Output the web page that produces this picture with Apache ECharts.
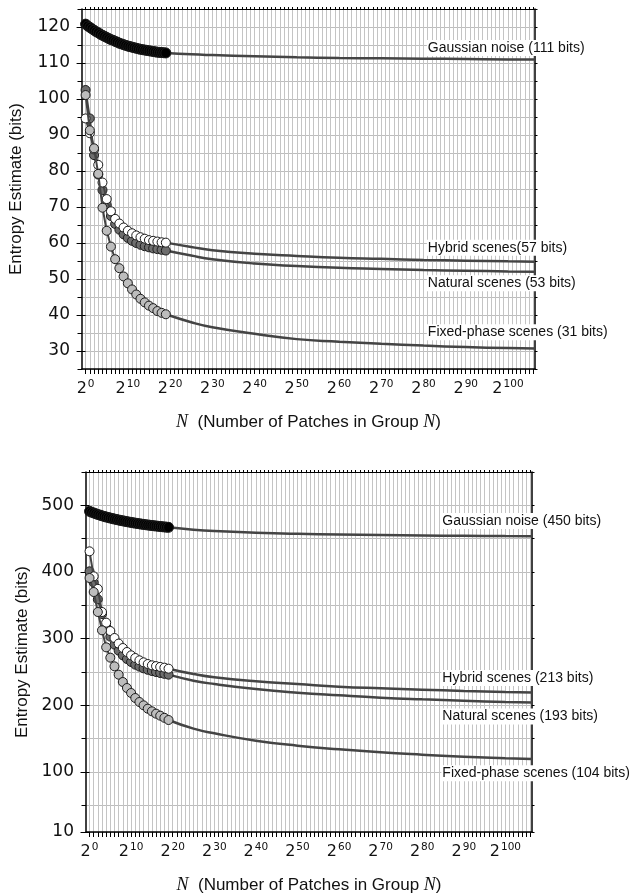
<!DOCTYPE html>
<html><head><meta charset="utf-8">
<script src="https://cdn.jsdelivr.net/npm/echarts@6/dist/echarts.min.js"></script>
<style>html,body{margin:0;padding:0;background:#fff}#c{width:633px;height:895px}</style>
</head><body><div id="c"></div>
<script>
// ---------- DATA (x values are log2 N) ----------
const pointExps = [0,1,2,3,4,5,6,7,8,9,10,11,12,13,14,15,16,17,18,19];
const gaussExps = [0,0.5,1,1.5,2,2.5,3,3.5,4,4.5,5,5.5,6,6.5,7,7.5,8,8.5,9,9.5,10,10.5,11,11.5,12,12.5,13,13.5,14,14.5,15,15.5,16,16.5,17,17.5,18,18.5,19];
const fitExps = [19,25,30,40,50,60,70,80,90,100,106.4];
const xTickLabels = [0,10,20,30,40,50,60,70,80,90,100];

// top panel
const topYLabels = [30,40,50,60,70,80,90,100,110,120];
const topGaussPts = [120.8,120.3,119.9,119.5,119.1,118.7,118.4,118.0,117.7,117.4,117.1,116.8,116.5,116.3,116.0,115.8,115.5,115.3,115.1,114.9,114.7,114.55,114.4,114.25,114.1,113.95,113.8,113.7,113.6,113.5,113.4,113.3,113.2,113.1,113.0,112.95,112.9,112.85,112.8];
const topHybridPts = [94.6,90.5,86.0,81.7,76.8,72.2,68.8,66.7,65.4,64.3,63.4,62.7,62.1,61.6,61.2,60.8,60.6,60.4,60.2,60.1];
const topNaturalPts = [102.5,94.6,84.4,79.0,74.7,70.5,67.5,65.3,63.7,62.4,61.4,60.6,60.0,59.5,59.1,58.8,58.5,58.3,58.1,57.9];
const topFixedPts = [101.1,91.3,86.3,79.2,69.8,63.4,59.0,55.5,53.0,50.7,48.8,47.1,45.7,44.5,43.5,42.6,41.9,41.1,40.6,40.2];
const topGaussFit = [112.8,112.4,112.2,111.9,111.6,111.4,111.3,111.2,111.1,111.0,111.0];
const topHybridFit = [60.1,58.9,58.0,57.0,56.4,55.9,55.6,55.3,55.1,54.9,54.8];
const topNaturalFit = [57.9,56.5,55.5,54.3,53.6,53.1,52.8,52.5,52.3,52.1,52.0];
const topFixedFit = [40.2,38.0,36.6,34.8,33.3,32.6,32.0,31.5,31.1,30.8,30.7];
const topNames = ['Gaussian noise (111 bits)','Hybrid scenes(57 bits)','Natural scenes (53 bits)','Fixed-phase scenes (31 bits)'];

// bottom panel
const botYLabels = [10,100,200,300,400,500];
const botGaussPts = [491,489.7,488.5,487.4,486.3,485.3,484.3,483.4,482.5,481.7,480.9,480.1,479.4,478.7,478.0,477.3,476.7,476.1,475.5,474.9,474.4,473.8,473.3,472.8,472.3,471.8,471.4,470.9,470.5,470.1,469.7,469.3,469.0,468.6,468.3,467.9,467.6,467.3,467.0];
const botHybridPts = [431,393.5,374.7,340,324,311.5,301,292.6,286,280,275,271,267.5,264.5,262,260,258.8,257.6,256.5,255];
const botNaturalPts = [401,384,359,337,318,303,291,282,275,269.5,265,261,258,255.5,253.3,251.5,250,248.5,247.2,246];
const botFixedPts = [391,370,340,312.5,287,271.5,258.5,246,235,226,218.5,211,205,200,195,191,187.5,184.5,181.3,178];
const botGaussFit = [467.0,463.5,461.5,459,457.3,456.2,455.4,454.8,454.3,453.9,453.7];
const botHybridFit = [255,247,242,236,232,228,225.5,223.5,221.5,220,219.3];
const botNaturalFit = [246,237,232,224.5,219,215,211.5,209,207,205,204.3];
const botFixedFit = [178,165,158,147,139.5,134,129.5,126,123,120.8,119.6];
const botNames = ['Gaussian noise (450 bits)','Hybrid scenes (213 bits)','Natural scenes (193 bits)','Fixed-phase scenes (104 bits)'];

// ---------- OPTION BUILDING ----------
const zip = (xs, ys) => xs.map((x, i) => [x, ys[i]]);
const range = (a, b, s) => { const r = []; for (let v = a; v <= b + 1e-9; v += s) r.push(v); return r; };
const X_MIN = -0.85, X_MAX = 106.4;
const intTicks = range(0, 106, 1);
const TXT = '#111';
const SANS = 'Liberation Sans, Arial, sans-serif';
const NUMF = 'DejaVu Sans, sans-serif';

const panels = [
  { grid: {left: 82, top: 9, width: 453, height: 360},
    yMin: 25, yMax: 125, yMinor: range(25, 125, 5), yMajor: topYLabels, yLabels: topYLabels,
    gauss: topGaussPts, hybrid: topHybridPts, natural: topNaturalPts, fixed: topFixedPts,
    fits: [topGaussFit, topHybridFit, topNaturalFit, topFixedFit], names: topNames,
    labelX: 80.8, labelY: [114.2, 58.7, 48.8, 35.2], yNameGap: 57 },
  { grid: {left: 86, top: 472, width: 446, height: 360},
    yMin: 10, yMax: 550, yMinor: [10].concat(range(50, 550, 50)), yMajor: botYLabels, yLabels: botYLabels,
    gauss: botGaussPts, hybrid: botHybridPts, natural: botNaturalPts, fixed: botFixedPts,
    fits: [botGaussFit, botHybridFit, botNaturalFit, botFixedFit], names: botNames,
    labelX: 84.6, labelY: [476.4, 240.9, 183.2, 98], yNameGap: 54 }
];

const grids = [], xAxes = [], yAxes = [], series = [];
const xName = '{i|N}  (Number of Patches in Group {i|N})';

panels.forEach((p, g) => {
  grids.push(Object.assign({containLabel: false}, p.grid));
  xAxes.push({
    type: 'value', gridIndex: g, position: 'bottom', min: X_MIN, max: X_MAX,
    name: xName, nameLocation: 'middle', nameGap: 44,
    nameTextStyle: {fontFamily: SANS, fontSize: 17, color: TXT,
      rich: {i: {fontFamily: 'Liberation Serif, serif', fontStyle: 'italic', fontSize: 18, color: TXT}}},
    axisLine: {show: true, onZero: false, lineStyle: {color: '#000', width: 1.5}},
    axisTick: {show: true, inside: false, length: 5, customValues: intTicks, lineStyle: {color: '#000', width: 1}},
    splitLine: {show: true, lineStyle: {color: '#c4c4c4', width: 1}},
    axisLabel: {show: true, customValues: xTickLabels, margin: 10,
      formatter: v => '{b|2}{s|' + v + '}',
      rich: {b: {fontFamily: NUMF, fontSize: 16, lineHeight: 19, color: TXT},
             s: {fontFamily: NUMF, fontSize: 10.5, lineHeight: 11, verticalAlign: 'top', color: TXT, padding: [0, 0, 0, 1]}}}
  });
  xAxes.push({
    type: 'value', gridIndex: g, position: 'top', min: X_MIN, max: X_MAX,
    axisLine: {show: true, onZero: false, lineStyle: {color: '#000', width: 1}},
    axisTick: {show: true, inside: false, length: 2, customValues: intTicks, lineStyle: {color: '#000', width: 1}},
    splitLine: {show: false}, axisLabel: {show: false}
  });
  yAxes.push({
    type: 'value', gridIndex: g, position: 'left', min: p.yMin, max: p.yMax,
    name: 'Entropy Estimate (bits)', nameLocation: 'middle', nameGap: p.yNameGap, nameRotate: 90,
    nameTextStyle: {fontFamily: SANS, fontSize: 17, color: TXT},
    axisLine: {show: true, onZero: false, lineStyle: {color: '#000', width: 1.5}},
    axisTick: {show: true, inside: false, length: 4.5, customValues: p.yMinor, lineStyle: {color: '#000', width: 1}},
    splitLine: {show: true, lineStyle: {color: '#bdbdbd', width: 1}},
    axisLabel: {show: true, customValues: p.yLabels, margin: 12, fontFamily: NUMF, fontSize: 17, color: TXT}
  });
  yAxes.push({
    type: 'value', gridIndex: g, position: 'left', min: p.yMin, max: p.yMax,
    axisLine: {show: false}, splitLine: {show: false}, axisLabel: {show: false},
    axisTick: {show: true, inside: false, length: 9, customValues: p.yMajor, lineStyle: {color: '#000', width: 1}}
  });
  yAxes.push({
    type: 'value', gridIndex: g, position: 'right', min: p.yMin, max: p.yMax,
    axisLine: {show: true, onZero: false, lineStyle: {color: '#000', width: 1.5}},
    axisTick: {show: true, inside: false, length: 2.5, customValues: p.yMinor, lineStyle: {color: '#000', width: 1}},
    splitLine: {show: false}, axisLabel: {show: false}
  });

  const xi = 2 * g, yi = 3 * g;
  p.fits.forEach((f, k) => {
    series.push({
      type: 'line', xAxisIndex: xi, yAxisIndex: yi, data: zip(fitExps, f),
      smooth: true, showSymbol: false, symbol: 'none', z: 2, silent: true,
      lineStyle: {color: '#444', width: 2.5},
      markPoint: {
        symbol: 'circle', symbolSize: 0, silent: true,
        label: {show: true, position: 'right', distance: 0, formatter: p.names[k],
          fontFamily: SANS, fontSize: 14, color: TXT, backgroundColor: '#fff', padding: [1, 1]},
        data: [{coord: [p.labelX, p.labelY[k]]}]
      }
    });
  });
  const ptsSeries = (data, fill, size, z) => ({
    type: 'line', xAxisIndex: xi, yAxisIndex: yi, data: data, z: z,
    symbol: 'circle', symbolSize: size, showSymbol: true, silent: true,
    lineStyle: {color: '#444', width: 2},
    itemStyle: {color: fill, borderColor: '#1a1a1a', borderWidth: 1}
  });
  series.push(ptsSeries(zip(pointExps, p.natural), '#6e6e6e', 9, 3));
  series.push(ptsSeries(zip(pointExps, p.hybrid), '#ffffff', 9, 4));
  series.push(ptsSeries(zip(pointExps, p.fixed), '#bdbdbd', 9, 5));
  series.push(ptsSeries(zip(gaussExps, p.gauss), '#000000', 10, 6));
});

const chart = echarts.init(document.getElementById('c'), null, {renderer: 'canvas'});
chart.setOption({
  animation: false,
  backgroundColor: '#fff',
  textStyle: {fontFamily: SANS},
  grid: grids, xAxis: xAxes, yAxis: yAxes, series: series
});
</script>
</body></html>
